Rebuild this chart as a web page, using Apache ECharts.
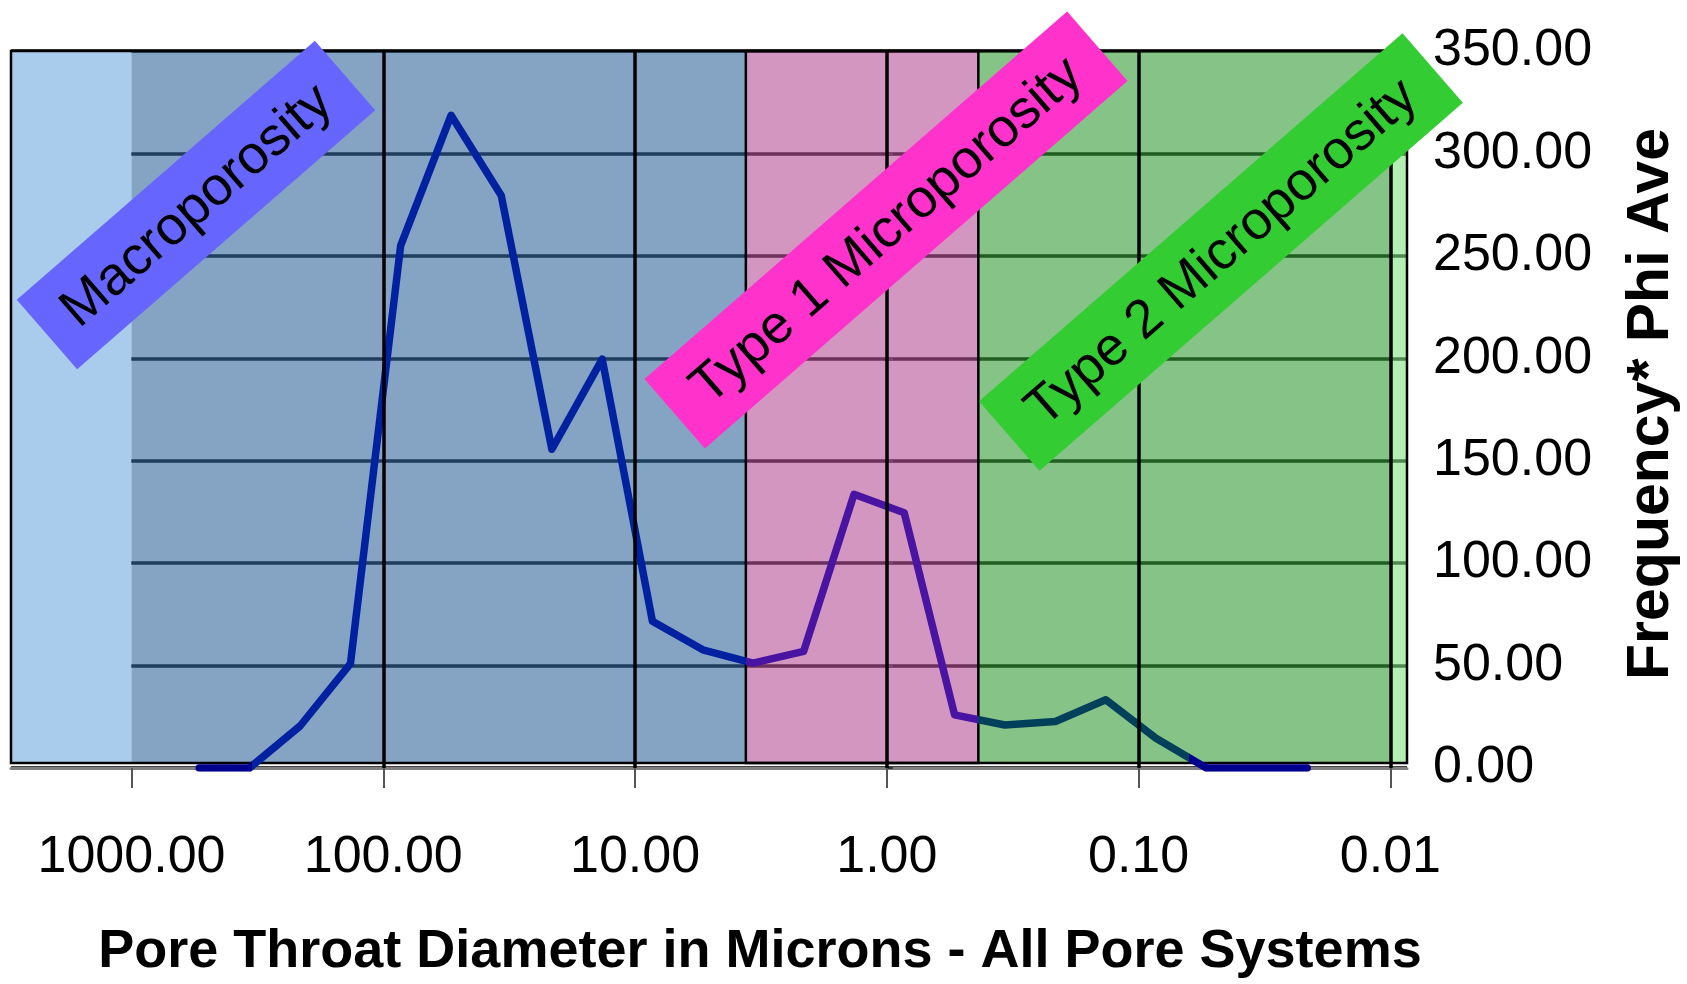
<!DOCTYPE html>
<html>
<head>
<meta charset="utf-8">
<script src="https://cdn.jsdelivr.net/npm/echarts@6/dist/echarts.min.js"></script>
<style>
html,body{margin:0;padding:0;background:#fff;}
#chart{width:1687px;height:984px;}
</style>
</head>
<body>
<div id="chart"></div>
<script>
// ---- data ----
const diameters = [538, 340, 214, 135, 85.3, 53.8, 34.0, 21.4, 13.5, 8.53, 5.38, 3.40, 2.14, 1.35, 0.853, 0.538, 0.340, 0.214, 0.135, 0.0853, 0.0538, 0.0340, 0.0214];
const freqPhi   = [0, 0, 20.5, 51, 255, 318.6, 279.5, 155.6, 199.6, 71.6, 57.7, 51.2, 56.9, 133.6, 124.6, 25.9, 21, 22.7, 33.3, 14.5, 0, 0, 0];

const xTickDiameters = [1000, 100, 10, 1, 0.1, 0.01];
const xTickLabels = ['1000.00', '100.00', '10.00', '1.00', '0.10', '0.01'];
const yTicks = [0, 50, 100, 150, 200, 250, 300, 350];

const xAxisMaxDiameter = 3010;     // left edge of plot
const xAxisMinDiameter = 0.00859;  // right edge of plot

const regionNames = ['', 'Macroporosity', 'Type 1 Microporosity', 'Type 2 Microporosity', ''];
const regionFrom  = [3010, 1000, 3.63, 0.433, 0.01];
const regionTo    = [1000, 3.63, 0.433, 0.01, 0.00859];

const xTitle = 'Pore Throat Diameter in Microns - All Pore Systems';
const yTitle = 'Frequency* Phi Ave';

// ---- build ----
const lg = Math.log10;
const lineData = diameters.map((d, i) => [lg(d), freqPhi[i]]);
const tickLogs = xTickDiameters.map(lg);
const labelFor = {};
xTickDiameters.forEach((d, i) => { labelFor[lg(d).toFixed(3)] = xTickLabels[i]; });

const regionFills = ['#AACCEC', 'rgba(51,102,153,0.6)', 'rgba(180,80,150,0.6)', 'rgba(53,155,53,0.6)', 'rgba(128,228,128,0.6)'];
const overlayBottom = 2.5;
const areaItems = [];
const order = [0, 1, 3, 4, 2];
order.forEach(i => {
  areaItems.push([
    { xAxis: lg(regionFrom[i]), yAxis: overlayBottom,
      itemStyle: { color: regionFills[i], borderColor: i === 2 ? '#000' : 'transparent', borderWidth: i === 2 ? 2.5 : 0 } },
    { xAxis: lg(regionTo[i]), yAxis: 350 }
  ]);
});
areaItems.push([
  { xAxis: lg(xAxisMaxDiameter), yAxis: overlayBottom, itemStyle: { color: 'rgba(0,0,0,0)', borderColor: '#000', borderWidth: 2.5 } },
  { xAxis: lg(xAxisMinDiameter), yAxis: 350 }
]);

const font = "'Liberation Sans', Arial, sans-serif";

function labelBox(cx, cy, w, h, text, fill) {
  return {
    type: 'group', x: cx, y: cy, rotation: 41 * Math.PI / 180, z: 100,
    children: [
      { type: 'rect', z: 100, shape: { x: -w / 2, y: -h / 2, width: w, height: h }, style: { fill: fill } },
      { type: 'text', z: 101, x: 0, y: 2, style: { text: text, font: '54px ' + font, fill: '#000', align: 'center', verticalAlign: 'middle' } }
    ]
  };
}

const chart = echarts.init(document.getElementById('chart'), null, { renderer: 'canvas' });
chart.setOption({
  animation: false,
  backgroundColor: '#fff',
  grid: { left: 11, right: 280, top: 51, bottom: 216, containLabel: false, outerBoundsMode: 'none' },
  xAxis: {
    type: 'value', inverse: true,
    min: lg(xAxisMinDiameter), max: lg(xAxisMaxDiameter),
    axisLine: { show: true, onZero: false, lineStyle: { color: '#808080', width: 3 } },
    axisTick: { show: true, customValues: tickLogs, length: 20, lineStyle: { color: '#555', width: 2 } },
    axisLabel: { show: true, customValues: tickLogs, margin: 64, fontSize: 52, fontFamily: font, color: '#000',
      formatter: v => labelFor[Number(v).toFixed(3)] || '' },
    splitLine: { show: false }
  },
  yAxis: {
    type: 'value', position: 'right', min: yTicks[0], max: yTicks[yTicks.length - 1], interval: 50,
    axisLine: { show: true, lineStyle: { color: '#000', width: 2 } },
    axisTick: { show: true, length: 6, lineStyle: { color: '#333', width: 2 } },
    axisLabel: { margin: 26, fontSize: 52, fontFamily: font, color: '#000', formatter: v => Number(v).toFixed(2) },
    splitLine: { show: true, lineStyle: { color: '#000', width: 3.5 } }
  },
  visualMap: {
    show: false, type: 'piecewise', dimension: 0, seriesIndex: 2,
    pieces: [
      { gte: 2.52, color: '#00008F' },
      { gte: 0.56, lt: 2.52, color: '#0022A0' },
      { gte: -0.3638, lt: 0.56, color: '#4A14A2' },
      { gte: -1.2, lt: -0.3638, color: '#00405A' },
      { lt: -1.2, color: '#00008F' }
    ]
  },
  series: [
    {
      name: 'grid', type: 'line', z: 1, data: lineData, symbol: 'none', silent: true,
      lineStyle: { width: 0, opacity: 0 },
      markLine: {
        silent: true, symbol: ['none', 'none'], label: { show: false },
        lineStyle: { color: '#000', width: 3.5, type: 'solid' },
        data: tickLogs.slice(1).map(v => ({ xAxis: v }))
      }
    },
    {
      name: 'regions', type: 'line', z: 2, data: lineData, symbol: 'none', silent: true,
      lineStyle: { width: 0, opacity: 0 },
      markArea: { silent: true, data: areaItems }
    },
    {
      name: 'Frequency* Phi Ave', type: 'line', z: 3, data: lineData, symbol: 'none',
      lineStyle: { width: 7.5, join: 'round', cap: 'round' }
    }
  ],
  graphic: [
    labelBox(196, 205, 395, 92, regionNames[1], '#6666FF'),
    labelBox(886, 230, 560, 92, regionNames[2], '#FF33CC'),
    labelBox(1221, 252, 561, 92, regionNames[3], '#33CC33'),
    { type: 'text', x: 760, y: 952, z: 100, style: { text: xTitle, font: 'bold 54px ' + font, fill: '#000', align: 'center', verticalAlign: 'middle' } },
    { type: 'text', x: 1652, y: 404, rotation: Math.PI / 2, z: 100, style: { text: yTitle, font: 'bold 59px ' + font, fill: '#000', align: 'center', verticalAlign: 'middle' } }
  ]
});
</script>
</body>
</html>
